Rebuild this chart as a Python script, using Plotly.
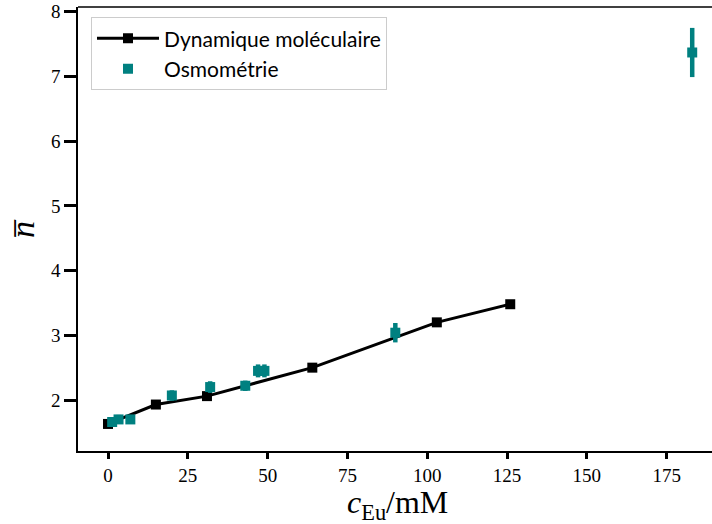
import plotly.graph_objects as go

# Dynamique moléculaire
x_md = [0.0, 15.0, 31.0, 64.0, 103.0, 126.0]
y_md = [1.63, 1.93, 2.06, 2.50, 3.20, 3.48]

# Osmométrie
x_osm = [1.3, 3.3, 7.0, 20.0, 32.0, 43.0, 47.0, 49.0, 90.0, 183.0]
y_osm = [1.66, 1.70, 1.70, 2.07, 2.20, 2.22, 2.45, 2.45, 3.04, 7.37]
e_osm = [0.07, 0.07, 0.06, 0.08, 0.09, 0.08, 0.10, 0.10, 0.15, 0.38]

x_ticks = [0, 25, 50, 75, 100, 125, 150, 175]
y_ticks = [2, 3, 4, 5, 6, 7, 8]

teal = "#008080"
serif = "Liberation Serif"

fig = go.Figure()
fig.add_trace(go.Scatter(
    x=x_md, y=y_md, mode="lines+markers", name="Dynamique moléculaire",
    line=dict(color="black", width=3),
    marker=dict(symbol="square", size=10, color="black"),
))
fig.add_trace(go.Scatter(
    x=x_osm, y=y_osm, mode="markers", name="Osmométrie",
    marker=dict(symbol="square", size=10, color=teal),
    error_y=dict(type="data", array=e_osm, visible=True, color=teal,
                 thickness=4.5, width=0),
))

fig.update_layout(
    width=712, height=524,
    margin=dict(l=78, r=0, t=7, b=73),
    paper_bgcolor="white", plot_bgcolor="white",
    showlegend=True,
    legend=dict(
        x=0.0205, y=0.977, xanchor="left", yanchor="top",
        bgcolor="white", bordercolor="#cccccc", borderwidth=1,
        font=dict(family="Lato", size=21, color="black"),
        itemwidth=62,
    ),
    font=dict(family=serif, color="black"),
)
fig.update_xaxes(
    range=[-9.4, 189.2], tickmode="array", tickvals=x_ticks,
    ticktext=[str(v) for v in x_ticks],
    ticks="outside", ticklen=6, tickwidth=3, tickcolor="black",
    tickfont=dict(family=serif, size=19, color="black"),
    showline=True, linecolor="black", linewidth=1.5, mirror=False,
    showgrid=False, zeroline=False, automargin=False,
)
fig.update_yaxes(
    range=[1.212, 8.073], tickmode="array", tickvals=y_ticks,
    ticktext=[str(v) for v in y_ticks],
    ticks="outside", ticklen=12, tickwidth=3, tickcolor="black",
    tickfont=dict(family=serif, size=19, color="black"),
    showline=True, linecolor="black", linewidth=1.5,
    showgrid=False, zeroline=False, automargin=False,
)
# top spine
fig.add_shape(type="line", xref="paper", yref="paper", x0=0, x1=1, y0=1, y1=1,
              line=dict(color="black", width=1.5))

# axis titles
fig.add_annotation(text="<i>c</i><sub>Eu</sub>/mM", xref="paper", yref="paper",
                   x=(397 - 78) / 634, y=-(504 - 451) / 444,
                   xanchor="center", yanchor="middle", showarrow=False,
                   font=dict(family=serif, size=32, color="black"))
fig.add_annotation(text="<i>n\u0305</i>", xref="paper", yref="paper",
                   x=-(78 - 22) / 634, y=(451 - 228) / 444,
                   xanchor="center", yanchor="middle", showarrow=False,
                   textangle=-90,
                   font=dict(family=serif, size=34, color="black"))

fig.write_html("out.html",
               config={"displayModeBar": False},
               post_script="document.body.style.margin='0px';document.body.style.overflow='hidden';")
